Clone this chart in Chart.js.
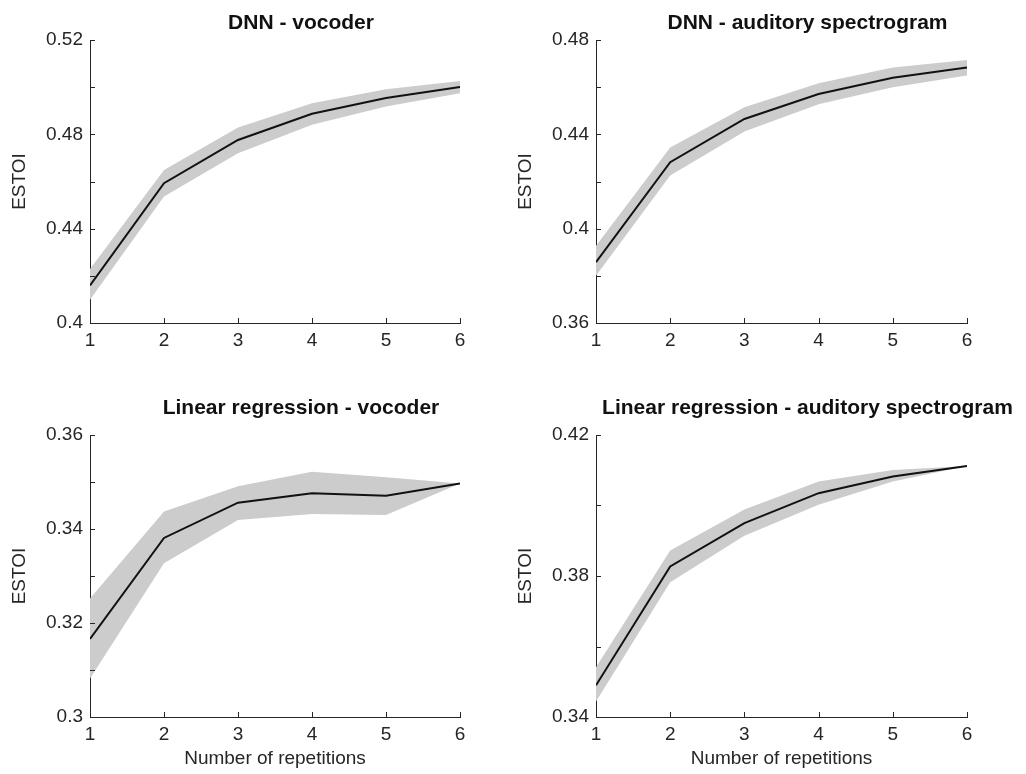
<!DOCTYPE html>
<html>
<head>
<meta charset="utf-8">
<script src="https://cdn.jsdelivr.net/npm/chart.js@4.4.0/dist/chart.umd.min.js"></script>
<style>
  html, body { margin: 0; padding: 0; background: #fff; }
  #wrap { position: relative; width: 1026px; height: 774px; }
  canvas { position: absolute; left: 0; top: 0; }
</style>
</head>
<body>
<div id="wrap">
  <canvas id="c0" width="1026" height="774"></canvas>
  <canvas id="c1" width="1026" height="774"></canvas>
  <canvas id="c2" width="1026" height="774"></canvas>
  <canvas id="c3" width="1026" height="774"></canvas>
</div>
<script>
// number of repetitions (x)
const reps = [1, 2, 3, 4, 5, 6];

// DNN - vocoder
const dnnVocMean  = [0.4159, 0.4593, 0.4776, 0.4887, 0.4954, 0.5001];
const dnnVocUpper = [0.4229, 0.4649, 0.4829, 0.4932, 0.4991, 0.5026];
const dnnVocLower = [0.4099, 0.4536, 0.4720, 0.4841, 0.4918, 0.4974];

// DNN - auditory spectrogram
const dnnAudMean  = [0.3858, 0.4282, 0.4465, 0.4571, 0.4640, 0.4683];
const dnnAudUpper = [0.3928, 0.4344, 0.4515, 0.4617, 0.4683, 0.4715];
const dnnAudLower = [0.3800, 0.4225, 0.4412, 0.4528, 0.4600, 0.4649];

// Linear regression - vocoder
const linVocMean  = [0.3166, 0.3381, 0.3456, 0.3476, 0.3471, 0.3497];
const linVocUpper = [0.3252, 0.3437, 0.3491, 0.3522, 0.3510, 0.3497];
const linVocLower = [0.3082, 0.3327, 0.3419, 0.3432, 0.3430, 0.3497];

// Linear regression - auditory spectrogram
const linAudMean  = [0.3490, 0.3827, 0.3950, 0.4035, 0.4082, 0.4112];
const linAudUpper = [0.3541, 0.3872, 0.3989, 0.4068, 0.4101, 0.4112];
const linAudLower = [0.3444, 0.3782, 0.3914, 0.4002, 0.4068, 0.4112];

// y axis ranges [min, max, step] per panel
const yRange0 = [0.40, 0.52, 0.02];
const yRange1 = [0.36, 0.48, 0.02];
const yRange2 = [0.30, 0.36, 0.01];
const yRange3 = [0.34, 0.42, 0.02];

const titles = [
  'DNN - vocoder',
  'DNN - auditory spectrogram',
  'Linear regression - vocoder',
  'Linear regression - auditory spectrogram'
];
const xLabel = 'Number of repetitions';
const yLabel = 'ESTOI';

const FONT = "'Liberation Sans', Arial, Helvetica, sans-serif";
const AXIS = '#262626';
const BAND = '#cccccc';

// ticks pointing into the axes, plus panel title
const matlabLook = {
  id: 'matlabLook',
  afterDraw(chart) {
    const ctx = chart.ctx;
    const a = chart.chartArea;
    const o = chart.options.plugins.matlabLook;
    ctx.save();
    ctx.strokeStyle = AXIS;
    ctx.lineWidth = 1;
    ctx.beginPath();
    chart.scales.y.ticks.forEach(t => {
      const y = Math.round(chart.scales.y.getPixelForValue(t.value)) + 0.5;
      ctx.moveTo(a.left, y);
      ctx.lineTo(a.left + 5, y);
    });
    chart.scales.x.ticks.forEach(t => {
      const x = Math.round(chart.scales.x.getPixelForValue(t.value)) + 0.5;
      ctx.moveTo(x, a.bottom);
      ctx.lineTo(x, a.bottom - 5);
    });
    ctx.stroke();
    ctx.fillStyle = '#111';
    ctx.font = 'bold 21px ' + FONT;
    ctx.textAlign = 'center';
    ctx.textBaseline = 'alphabetic';
    ctx.fillText(o.text, (a.left + a.right) / 2 + 26, a.top - o.gap);
    ctx.restore();
  }
};

function panel(id, mean, upper, lower, yr, title, box, showX, gap) {
  const pt = (arr) => reps.map((r, i) => ({ x: r, y: arr[i] }));
  new Chart(document.getElementById(id), {
    type: 'line',
    data: {
      datasets: [
        { data: pt(mean), borderColor: '#111', borderWidth: 2, pointRadius: 0, fill: false, tension: 0 },
        { data: pt(upper), borderWidth: 0, borderColor: 'rgba(0,0,0,0)', backgroundColor: BAND, pointRadius: 0, fill: '+1', tension: 0 },
        { data: pt(lower), borderWidth: 0, borderColor: 'rgba(0,0,0,0)', pointRadius: 0, fill: false, tension: 0 }
      ]
    },
    options: {
      responsive: false,
      animation: false,
      events: [],
      layout: {
        padding: { left: box.left - 90, top: box.top, right: 1026 - box.right, bottom: 774 - box.bottom - (showX ? 57 : 40) }
      },
      plugins: {
        legend: { display: false },
        tooltip: { enabled: false },
        matlabLook: { text: title, gap: gap }
      },
      scales: {
        x: {
          type: 'linear',
          min: 1,
          max: 6,
          grid: { display: false, drawTicks: false },
          border: { display: true, color: AXIS, width: 1 },
          ticks: { stepSize: 1, padding: 6, color: AXIS, maxRotation: 0, autoSkip: false, font: { family: FONT, size: 19 } },
          title: { display: showX, text: xLabel, color: AXIS, padding: { top: 0, bottom: 4 }, font: { family: FONT, size: 19 } },
          afterFit(s) { s.height = showX ? 57 : 40; s.paddingLeft = 0; s.paddingRight = 0; }
        },
        y: {
          min: yr[0],
          max: yr[1],
          grid: { display: false, drawTicks: false },
          border: { display: true, color: AXIS, width: 1 },
          ticks: {
            stepSize: yr[2],
            padding: 7,
            color: AXIS,
            autoSkip: false,
            font: { family: FONT, size: 19 },
            callback: (v, i) => (i % 2 === 0 ? String(+v.toFixed(3)) : '')
          },
          title: { display: true, text: yLabel, color: AXIS, padding: { top: 8, bottom: 0 }, font: { family: FONT, size: 19 } },
          afterFit(s) { s.width = 90; s.paddingTop = 0; s.paddingBottom = 0; }
        }
      }
    },
    plugins: [matlabLook]
  });
}

panel('c0', dnnVocMean, dnnVocUpper, dnnVocLower, yRange0, titles[0], { left: 90, right: 460, top: 40, bottom: 323 }, false, 11);
panel('c1', dnnAudMean, dnnAudUpper, dnnAudLower, yRange1, titles[1], { left: 596, right: 967, top: 40, bottom: 323 }, false, 11);
panel('c2', linVocMean, linVocUpper, linVocLower, yRange2, titles[2], { left: 90, right: 460, top: 435, bottom: 717 }, true, 21);
panel('c3', linAudMean, linAudUpper, linAudLower, yRange3, titles[3], { left: 596, right: 967, top: 435, bottom: 717 }, true, 21);
</script>
</body>
</html>
